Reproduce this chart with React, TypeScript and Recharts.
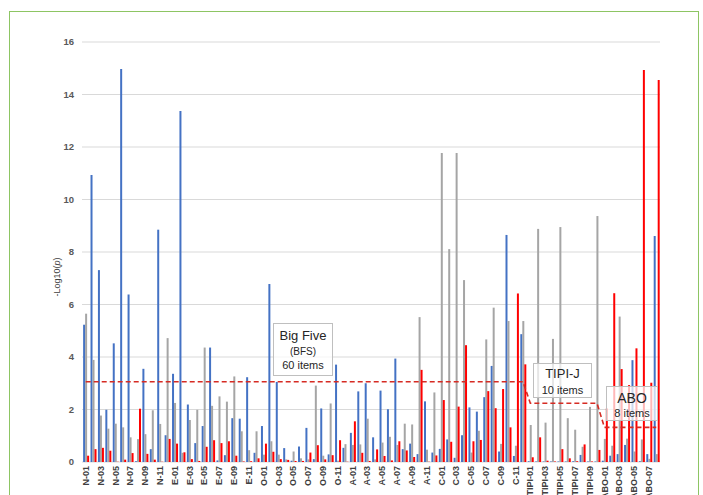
import React from 'react';
import { ComposedChart, Bar, Line, XAxis, YAxis, CartesianGrid } from 'recharts';

const categories: string[] = [
  'N-01','N-02','N-03','N-04','N-05','N-06','N-07','N-08','N-09','N-10','N-11','N-12',
  'E-01','E-02','E-03','E-04','E-05','E-06','E-07','E-08','E-09','E-10','E-11','E-12',
  'O-01','O-02','O-03','O-04','O-05','O-06','O-07','O-08','O-09','O-10','O-11','O-12',
  'A-01','A-02','A-03','A-04','A-05','A-06','A-07','A-08','A-09','A-10','A-11','A-12',
  'C-01','C-02','C-03','C-04','C-05','C-06','C-07','C-08','C-09','C-10','C-11','C-12',
  'TIPI-01','TIPI-02','TIPI-03','TIPI-04','TIPI-05','TIPI-06','TIPI-07','TIPI-08','TIPI-09','TIPI-10',
  'ABO-01','ABO-02','ABO-03','ABO-04','ABO-05','ABO-06','ABO-07','ABO-08',
];

const blueValues: number[] = [
  5.23, 10.93, 7.31, 1.99, 4.52, 14.97, 6.38, 0.03, 3.55, 0.49, 8.85, 1.02,
  3.36, 13.37, 2.19, 0.72, 1.37, 4.36, 0.06, 0.26, 1.67, 1.65, 3.23, 0.35,
  1.37, 6.78, 3.05, 0.53, 0.05, 0.59, 1.30, 0.11, 2.04, 0.29, 3.71, 0.54,
  1.11, 2.69, 3.0, 0.94, 2.72, 2.01, 3.94, 0.49, 0.70, 0.30, 2.31, 0.36,
  0.50, 0.86, 0.16, 1.02, 2.08, 1.92, 2.47, 3.66, 0.40, 8.65, 0.23, 4.87,
  0.03, 0.02, 0.02, 0.02, 0.02, 0.02, 0.03, 0.27, 0.02, 0.02,
  0.05, 0.24, 0.30, 0.65, 3.88, 0.03, 0.30, 8.61,
];

const grayValues: number[] = [
  5.65, 3.89, 1.77, 1.27, 1.46, 1.32, 0.94, 0.87, 1.06, 1.97, 1.45, 4.72,
  2.25, 0.35, 1.60, 1.99, 4.36, 2.14, 2.50, 2.30, 3.26, 1.17, 0.45, 1.17,
  0.28, 0.79, 0.28, 0.10, 0.40, 0.14, 0.10, 2.91, 0.24, 2.23, 0.05, 0.68,
  0.65, 0.67, 1.65, 0.10, 0.74, 0.96, 0.65, 1.46, 1.43, 5.52, 0.47, 2.65,
  11.77, 8.11, 11.77, 6.93, 0.36, 1.19, 4.67, 5.88, 0.69, 5.37, 0.62, 5.37,
  1.41, 8.88, 1.50, 4.69, 8.95, 1.67, 1.23, 0.58, 2.10, 9.37,
  0.88, 0.62, 5.54, 0.89, 0.40, 0.86, 0.12, 0.30,
];

const redValues: number[] = [
  0.24, 0.49, 0.54, 0.43, 0.01, 0.09, 0.34, 2.03, 0.31, 0.09, 0.01, 0.88,
  0.70, 0.37, 0.11, 0.04, 0.58, 0.83, 0.72, 0.79, 0.24, 0.02, 0.03, 0.14,
  0.70, 0.39, 0.11, 0.08, 0.04, 0.04, 0.36, 0.64, 0.10, 0.26, 0.83, 0.01,
  1.55, 0.35, 0.04, 0.48, 0.23, 0.06, 0.79, 0.44, 0.19, 3.51, 0.01, 0.25,
  2.36, 0.77, 2.11, 4.45, 0.79, 0.84, 2.70, 2.05, 2.78, 1.32, 6.42, 3.72,
  0.18, 0.94, 0.05, 0.02, 0.49, 0.14, 0.03, 0.67, 0.02, 0.46,
  2.04, 6.43, 3.54, 2.93, 4.33, 14.93, 3.02, 14.55,
];

const thresholds: number[] = [
  ...Array(60).fill(3.06),
  ...Array(10).fill(2.24),
  ...Array(8).fill(1.32),
];

const yTicks: number[] = [0, 2, 4, 6, 8, 10, 12, 14, 16];

const data = categories.map((c, i) => ({
  name: c,
  blue: blueValues[i],
  gray: grayValues[i],
  red: redValues[i],
  thr: thresholds[i],
}));

const XTick = (props: any) => {
  const { x, payload } = props;
  return (
    <g transform={`translate(${x},466)`}>
      <text transform="rotate(-90)" textAnchor="end" dy="0.35em" fontSize={9} fontWeight="bold" fill="#404040" fontFamily="Liberation Sans, Arial, sans-serif">
        {payload.value}
      </text>
    </g>
  );
};

const YLabel = () => (
  <text x={60} y={277} transform="rotate(-90 60 277)" textAnchor="middle" fontSize={9} fill="#404040" fontFamily="Liberation Sans, Arial, sans-serif">
    -Log10(<tspan fontStyle="italic">p</tspan>)
  </text>
);

const boxStyle: React.CSSProperties = {
  position: 'absolute',
  border: '1px solid #BFBFBF',
  background: 'rgba(255,255,255,0.72)',
  fontFamily: 'Liberation Sans, Arial, sans-serif',
  color: '#262626',
  textAlign: 'center',
  boxSizing: 'border-box',
  lineHeight: 1.15,
};

export default function App() {
  return (
    <div style={{ position: 'absolute', left: 0, top: 0, width: 703, height: 495, background: '#fff', overflow: 'hidden' }}>
      <div style={{ position: 'absolute', left: 9, top: 11, width: 690, height: 520, border: '1.5px solid #8DC563', boxSizing: 'border-box' }} />
      <div style={{ position: 'absolute', left: 0, top: 0 }}>
        <ComposedChart
          width={703}
          height={495}
          data={data}
          margin={{ top: 42, right: 43, left: 0, bottom: 0 }}
          barCategoryGap="15%"
          barGap={0}
        >
          <CartesianGrid vertical={false} stroke="#D9D9D9" />
          <XAxis dataKey="name" interval={1} tick={<XTick />} tickLine={false} axisLine={false} height={33} />
          <YAxis
            width={82}
            domain={[0, 16]}
            ticks={yTicks}
            tickLine={false}
            axisLine={false}
            tick={{ fontSize: 9.5, fontWeight: 'bold', fill: '#595959', fontFamily: 'Liberation Sans, Arial, sans-serif' }}
            label={<YLabel />}
          />
          <Bar dataKey="blue" fill="#4472C4" isAnimationActive={false} />
          <Bar dataKey="gray" fill="#A5A5A5" isAnimationActive={false} />
          <Bar dataKey="red" fill="#FF0000" isAnimationActive={false} />
          <Line dataKey="thr" type="linear" stroke="#D62B23" strokeWidth={1.6} strokeDasharray="5 3" dot={false} activeDot={false} isAnimationActive={false} />
        </ComposedChart>
      </div>
      <div style={{ ...boxStyle, left: 273, top: 323, width: 60, height: 53 }}>
        <div style={{ fontSize: 13, marginTop: 5 }}>Big Five</div>
        <div style={{ fontSize: 10, marginTop: 2 }}>(BFS)</div>
        <div style={{ fontSize: 11, marginTop: 2 }}>60 items</div>
      </div>
      <div style={{ ...boxStyle, left: 533, top: 363, width: 59, height: 35 }}>
        <div style={{ fontSize: 13, marginTop: 3 }}>TIPI-J</div>
        <div style={{ fontSize: 11, marginTop: 2 }}>10 items</div>
      </div>
      <div style={{ ...boxStyle, left: 606, top: 386, width: 52, height: 35 }}>
        <div style={{ fontSize: 14, marginTop: 3 }}>ABO</div>
        <div style={{ fontSize: 11, marginTop: 1 }}>8 items</div>
      </div>
    </div>
  );
}
